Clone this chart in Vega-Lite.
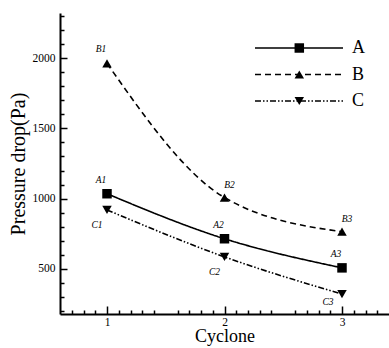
{
  "$schema": "https://vega.github.io/schema/vega-lite/v6.json",
  "width": 329,
  "height": 301,
  "autosize": "none",
  "padding": {"left": 60, "top": 13, "right": 0, "bottom": 34},
  "background": "white",
  "config": {
    "view": {"stroke": null},
    "font": "Liberation Serif",
    "axis": {
      "grid": false,
      "domainColor": "black",
      "domainWidth": 2,
      "tickColor": "black",
      "tickWidth": 1.5,
      "labelColor": "black",
      "labelFont": "Liberation Serif",
      "labelFontSize": 11.5,
      "titleFont": "Liberation Serif",
      "titleFontWeight": "normal",
      "titleColor": "black"
    },
    "legend": {
      "title": null,
      "orient": "none",
      "padding": 0,
      "labelFont": "Liberation Serif",
      "labelFontSize": 18,
      "labelColor": "black",
      "rowPadding": 8.5
    }
  },
  "data": {
    "values": [
      {"series": "A", "cyclone": 1, "pressure": 1035, "label": "A1"},
      {"series": "A", "cyclone": 2, "pressure": 715, "label": "A2"},
      {"series": "A", "cyclone": 3, "pressure": 508, "label": "A3"},
      {"series": "B", "cyclone": 1, "pressure": 1962, "label": "B1"},
      {"series": "B", "cyclone": 2, "pressure": 1008, "label": "B2"},
      {"series": "B", "cyclone": 3, "pressure": 765, "label": "B3"},
      {"series": "C", "cyclone": 1, "pressure": 920, "label": "C1"},
      {"series": "C", "cyclone": 2, "pressure": 586, "label": "C2"},
      {"series": "C", "cyclone": 3, "pressure": 322, "label": "C3"}
    ]
  },
  "resolve": {"axis": {"x": "independent", "y": "independent"}},
  "layer": [
    {
      "mark": {"type": "line", "interpolate": "monotone", "color": "black", "strokeWidth": 1.6},
      "encoding": {
        "x": {
          "field": "cyclone", "type": "quantitative",
          "scale": {"domain": [0.6, 3.4], "nice": false, "zero": false},
          "axis": {
            "orient": "bottom",
            "values": [1, 1.5, 2, 2.5, 3],
            "format": "d",
            "labelExpr": "datum.value % 1 === 0 ? datum.label : ''",
            "tickSize": -8,
            "labelPadding": 10,
            "title": "Cyclone",
            "titleFontSize": 18,
            "titlePadding": 0
          }
        },
        "y": {
          "field": "pressure", "type": "quantitative",
          "scale": {"domain": [180, 2320], "nice": false, "zero": false},
          "axis": {
            "orient": "left",
            "values": [500, 1000, 1500, 2000],
            "format": "d",
            "tickSize": -7,
            "labelPadding": 12,
            "title": "Pressure drop(Pa)",
            "titleFontSize": 20,
            "titlePadding": 4
          }
        },
        "strokeDash": {
          "field": "series", "type": "nominal",
          "scale": {"domain": ["A", "B", "C"], "range": [[1, 0], [6, 4], [6, 2, 1.5, 2, 1.5, 2]]},
          "legend": {
            "legendX": 230,
            "legendY": 26,
            "symbolType": "M-44,0H44",
            "symbolSize": 4,
            "symbolStrokeWidth": 1.6,
            "symbolStrokeColor": "black",
            "symbolFillColor": "transparent",
            "labelOffset": 44
          }
        }
      }
    },
    {
      "mark": {"type": "point", "filled": true, "color": "black", "opacity": 1, "size": 90},
      "encoding": {
        "x": {
          "field": "cyclone", "type": "quantitative",
          "axis": {
            "orient": "bottom",
            "values": [0.7, 0.8, 0.9, 1.1, 1.2, 1.3, 1.4, 1.6, 1.7, 1.8, 1.9, 2.1, 2.2, 2.3, 2.4, 2.6, 2.7, 2.8, 2.9, 3.1, 3.2, 3.3],
            "tickSize": -4,
            "labels": false,
            "domain": false,
            "title": null
          }
        },
        "y": {
          "field": "pressure", "type": "quantitative",
          "axis": {
            "orient": "left",
            "values": [200, 300, 400, 600, 700, 800, 900, 1100, 1200, 1300, 1400, 1600, 1700, 1800, 1900, 2100, 2200, 2300],
            "tickSize": -4,
            "labels": false,
            "domain": false,
            "title": null
          }
        },
        "shape": {
          "field": "series", "type": "nominal",
          "scale": {"range": ["square", "triangle-up", "triangle-down"]},
          "legend": {
            "legendX": 230.3,
            "legendY": 26,
            "symbolSize": 90,
            "symbolFillColor": "black",
            "symbolStrokeColor": "black",
            "symbolStrokeWidth": 0,
            "symbolOpacity": 1,
            "labelExpr": "''",
            "labelOffset": 0
          }
        }
      }
    },
    {
      "transform": [{"filter": {"field": "label", "oneOf": ["A1", "B1", "A2", "A3"]}}],
      "mark": {"type": "text", "font": "Liberation Serif", "fontStyle": "italic", "fontSize": 9.5, "color": "black", "dx": -6, "dy": -14},
      "encoding": {
        "x": {"field": "cyclone", "type": "quantitative", "axis": null},
        "y": {"field": "pressure", "type": "quantitative", "axis": null},
        "text": {"field": "label"}
      }
    },
    {
      "transform": [{"filter": {"field": "label", "oneOf": ["B2", "B3"]}}],
      "mark": {"type": "text", "font": "Liberation Serif", "fontStyle": "italic", "fontSize": 9.5, "color": "black", "dx": 5, "dy": -13},
      "encoding": {
        "x": {"field": "cyclone", "type": "quantitative", "axis": null},
        "y": {"field": "pressure", "type": "quantitative", "axis": null},
        "text": {"field": "label"}
      }
    },
    {
      "transform": [{"filter": {"field": "label", "oneOf": ["C1", "C2"]}}],
      "mark": {"type": "text", "font": "Liberation Serif", "fontStyle": "italic", "fontSize": 9.5, "color": "black", "dx": -10, "dy": 15},
      "encoding": {
        "x": {"field": "cyclone", "type": "quantitative", "axis": null},
        "y": {"field": "pressure", "type": "quantitative", "axis": null},
        "text": {"field": "label"}
      }
    },
    {
      "transform": [{"filter": {"field": "label", "oneOf": ["C3"]}}],
      "mark": {"type": "text", "font": "Liberation Serif", "fontStyle": "italic", "fontSize": 9.5, "color": "black", "dx": -14, "dy": 8},
      "encoding": {
        "x": {"field": "cyclone", "type": "quantitative", "axis": null},
        "y": {"field": "pressure", "type": "quantitative", "axis": null},
        "text": {"field": "label"}
      }
    }
  ]
}
